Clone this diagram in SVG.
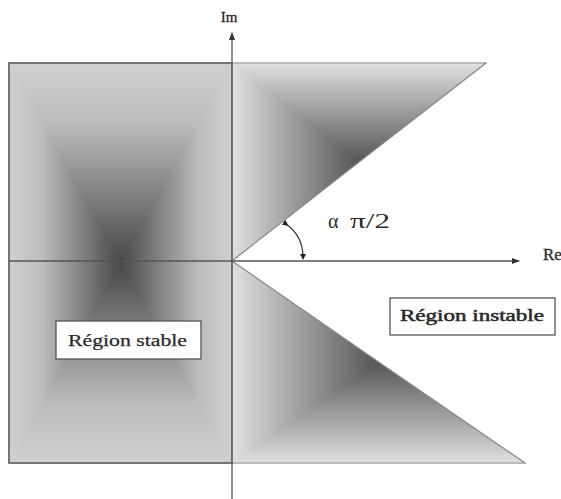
<svg xmlns="http://www.w3.org/2000/svg" width="561" height="499" viewBox="0 0 561 499">
<defs>
<style>
.lbl{font-family:"Liberation Serif","Times New Roman",serif;fill:#2a2a2a}
.box{fill:#fff;stroke:#555;stroke-width:1.3}
.axis{stroke:#555;stroke-width:1.3;fill:none}
.edge{fill:none;stroke:#8a8a8a;stroke-width:1.2}
</style>
<linearGradient id="lrTop" gradientUnits="userSpaceOnUse" x1="0" y1="63" x2="0" y2="263"><stop offset="0" stop-color="#d0d0d0"/><stop offset="0.3" stop-color="#bcbcbc"/><stop offset="1" stop-color="#484848"/></linearGradient>
<linearGradient id="lrBot" gradientUnits="userSpaceOnUse" x1="0" y1="463" x2="0" y2="263"><stop offset="0" stop-color="#d0d0d0"/><stop offset="0.3" stop-color="#bcbcbc"/><stop offset="1" stop-color="#484848"/></linearGradient>
<linearGradient id="lrLeft" gradientUnits="userSpaceOnUse" x1="9" y1="0" x2="120.5" y2="0"><stop offset="0" stop-color="#d0d0d0"/><stop offset="0.3" stop-color="#bcbcbc"/><stop offset="1" stop-color="#484848"/></linearGradient>
<linearGradient id="lrRight" gradientUnits="userSpaceOnUse" x1="232" y1="0" x2="120.5" y2="0"><stop offset="0" stop-color="#d0d0d0"/><stop offset="0.3" stop-color="#bcbcbc"/><stop offset="1" stop-color="#484848"/></linearGradient>
<linearGradient id="utTop" gradientUnits="userSpaceOnUse" x1="0" y1="63" x2="0" y2="162"><stop offset="0" stop-color="#e0e0e0"/><stop offset="1" stop-color="#555"/></linearGradient>
<linearGradient id="utLeft" gradientUnits="userSpaceOnUse" x1="232" y1="0" x2="359" y2="0"><stop offset="0" stop-color="#e0e0e0"/><stop offset="1" stop-color="#555"/></linearGradient>
<linearGradient id="ltLeft" gradientUnits="userSpaceOnUse" x1="232" y1="0" x2="378.5" y2="0"><stop offset="0" stop-color="#e0e0e0"/><stop offset="1" stop-color="#555"/></linearGradient>
<linearGradient id="ltBot" gradientUnits="userSpaceOnUse" x1="0" y1="463" x2="0" y2="362"><stop offset="0" stop-color="#e0e0e0"/><stop offset="1" stop-color="#555"/></linearGradient>
<marker id="arr" viewBox="0 0 8 6" refX="7" refY="3" markerWidth="8" markerHeight="6" markerUnits="userSpaceOnUse" orient="auto"><path d="M0,0 L8,3 L0,6 z" fill="#333"/></marker>
<marker id="dot" viewBox="0 0 6 6" refX="3" refY="3" markerWidth="6" markerHeight="6" markerUnits="userSpaceOnUse" orient="auto"><path d="M0,0 L6,3 L0,6 z" fill="#222"/></marker>
</defs>
<rect width="561" height="499" fill="#fff"/>

<g id="stable-region">
<polygon points="9,63 232,63 120.5,263" fill="url(#lrTop)" stroke="url(#lrTop)" stroke-width="0.8"/>
<polygon points="9,463 232,463 120.5,263" fill="url(#lrBot)" stroke="url(#lrBot)" stroke-width="0.8"/>
<polygon points="9,63 9,463 120.5,263" fill="url(#lrLeft)" stroke="url(#lrLeft)" stroke-width="0.8"/>
<polygon points="232,63 232,463 120.5,263" fill="url(#lrRight)" stroke="url(#lrRight)" stroke-width="0.8"/>
<rect x="9" y="63" width="223" height="400" fill="none" stroke="#5a5a5a" stroke-width="1.6"/>
</g>

<g id="unstable-upper">
<polygon points="232,63 486,63 359,162" fill="url(#utTop)" stroke="url(#utTop)" stroke-width="0.8"/>
<polygon points="232,63 359,162 232,261" fill="url(#utLeft)" stroke="url(#utLeft)" stroke-width="0.8"/>
<polygon class="edge" points="232,63 486,63 232,261"/>
</g>

<g id="unstable-lower">
<polygon points="232,261 378.5,362 232,463" fill="url(#ltLeft)" stroke="url(#ltLeft)" stroke-width="0.8"/>
<polygon points="232,463 525,463 378.5,362" fill="url(#ltBot)" stroke="url(#ltBot)" stroke-width="0.8"/>
<polygon class="edge" points="232,261 525,463 232,463"/>
</g>

<g id="connectors">
<line class="axis" x1="9" y1="261" x2="519" y2="261" marker-end="url(#arr)"/>
<line class="axis" x1="232" y1="499" x2="232" y2="33" marker-end="url(#arr)"/>
<path id="angle-arc" d="M286,224 Q303,236 303,257" fill="none" stroke="#333" stroke-width="1.2" marker-start="url(#dot)" marker-end="url(#dot)"/>
</g>

<g id="axis-labels">
<text class="lbl" x="229" y="22" font-size="15" text-anchor="middle" stroke="#2a2a2a" stroke-width="0.3">Im</text>
<text class="lbl" x="543" y="260" font-size="17" stroke="#2a2a2a" stroke-width="0.3">Re</text>
<text class="lbl" x="328" y="228" font-size="20"><tspan>α</tspan><tspan x="350" textLength="40" lengthAdjust="spacingAndGlyphs">π/2</tspan></text>
</g>

<g id="label-stable">
<rect class="box" x="56" y="321" width="145" height="38"/>
<text class="lbl" x="68" y="346" font-size="17" textLength="119" lengthAdjust="spacingAndGlyphs" stroke="#2a2a2a" stroke-width="0.25">Région stable</text>
</g>

<g id="label-instable">
<rect class="box" x="390" y="298" width="165" height="37"/>
<text class="lbl" x="400" y="321" font-size="16" textLength="144" lengthAdjust="spacingAndGlyphs" stroke="#2a2a2a" stroke-width="0.5">Région instable</text>
</g>
</svg>
